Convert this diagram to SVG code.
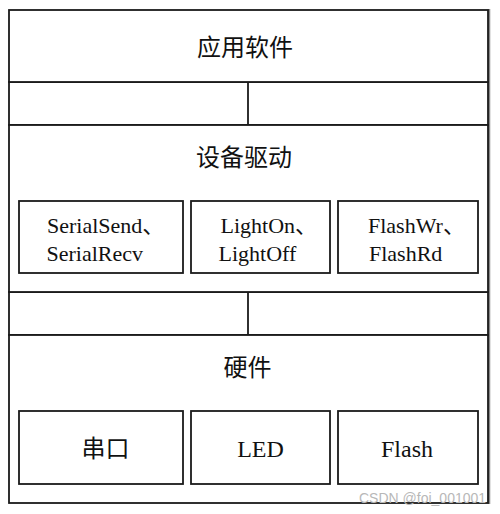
<svg xmlns="http://www.w3.org/2000/svg" width="500" height="514" viewBox="0 0 500 514">
<style>
.box{fill:#fff;stroke:#1a1a1a;stroke-width:1.8}
.t{font-family:"Liberation Serif","Noto Sans CJK SC",serif;fill:#111}
.h{font-size:24px;text-anchor:middle}
.s{font-size:22px}
.b{font-size:24px;text-anchor:middle}
.wm{font-family:"Liberation Sans","Noto Sans",sans-serif;font-size:14px;fill:#b8b8b8}
</style>
<rect width="500" height="514" fill="#fff"/>
<line x1="489" y1="9" x2="489" y2="504" stroke="#888" stroke-width="2.5"/>
<g id="connectors">
<rect class="box" x="9" y="82" width="479" height="43"/>
<line x1="248" y1="82" x2="248" y2="125" stroke="#1a1a1a" stroke-width="1.8"/>
<rect class="box" x="9" y="292" width="479" height="43"/>
<line x1="248" y1="292" x2="248" y2="335" stroke="#1a1a1a" stroke-width="1.8"/>
</g>
<g id="app">
<rect class="box" x="9" y="10" width="479" height="72"/>
<text class="t h" x="245" y="56">应用软件</text>
</g>
<g id="driver">
<rect class="box" x="9" y="125" width="479" height="167"/>
<text class="t h" x="244" y="166">设备驱动</text>
<g id="drv-serial">
<rect class="box" x="19" y="201" width="164" height="72"/>
<text class="t s" x="47" y="233">SerialSend、</text>
<text class="t s" x="46.5" y="261">SerialRecv</text>
</g>
<g id="drv-light">
<rect class="box" x="191" y="201" width="139" height="72"/>
<text class="t s" x="220.5" y="233">LightOn、</text>
<text class="t s" x="218.5" y="261">LightOff</text>
</g>
<g id="drv-flash">
<rect class="box" x="338" y="201" width="140" height="72"/>
<text class="t s" x="368" y="233">FlashWr、</text>
<text class="t s" x="369" y="261">FlashRd</text>
</g>
</g>
<g id="hardware">
<rect class="box" x="9" y="335" width="479" height="168"/>
<text class="t h" x="247.5" y="376">硬件</text>
<g id="hw-serial">
<rect class="box" x="19" y="411" width="164" height="73"/>
<text class="t b" x="105.5" y="457">串口</text>
</g>
<g id="hw-led">
<rect class="box" x="191" y="411" width="139" height="73"/>
<text class="t b" x="260.5" y="457">LED</text>
</g>
<g id="hw-flash">
<rect class="box" x="338" y="411" width="140" height="73"/>
<text class="t b" x="407" y="457">Flash</text>
</g>
</g>
<text class="wm" x="359" y="503">CSDN @foi_001001</text>
</svg>
